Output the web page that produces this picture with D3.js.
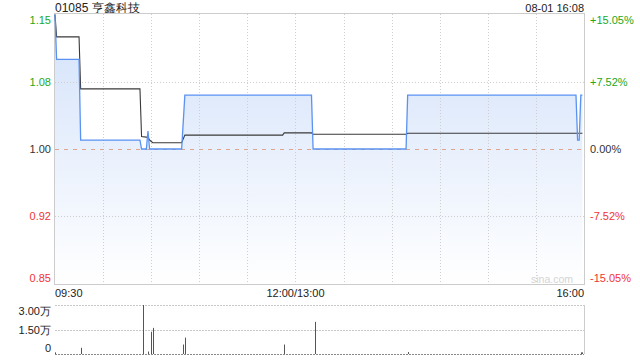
<!DOCTYPE html>
<html><head><meta charset="utf-8">
<script src="https://cdn.jsdelivr.net/npm/d3@7/dist/d3.min.js"></script>
<style>
html,body{margin:0;padding:0;background:#fff;}
svg{display:block;font-family:Arial,"Liberation Sans",Helvetica,sans-serif;}
</style></head>
<body>
<svg id="c" width="640" height="360"></svg>
<script>
const title = "01085 亨鑫科技";
const dateText = "08-01 16:08";
const prevClose = 1.00;
const priceTicks = [1.1505, 1.0752, 1.00, 0.9248, 0.8495];
const priceTickLabels = ["1.15", "1.08", "1.00", "0.92", "0.85"];
const pctTickLabels = ["+15.05%", "+7.52%", "0.00%", "-7.52%", "-15.05%"];
const timeLabels = ["09:30", "12:00/13:00", "16:00"];
const timeLabelMinutes = [0, 150, 330];
const gridMinutes = [30, 60, 90, 120, 150, 180, 210, 240, 270, 300];
// minutes since 09:30 on a continuous trading axis (lunch removed)
const priceMinutes = [0, 1, 15, 16, 53, 54, 57, 58, 59, 79, 81, 160, 161, 219, 220, 325, 326, 327, 328, 329];
const priceValues  = [1.15, 1.10, 1.10, 1.01, 1.01, 1.00, 1.00, 1.02, 1.00, 1.00, 1.06, 1.06, 1.00, 1.00, 1.06, 1.06, 1.01, 1.01, 1.06, 1.06];
const avgMinutes = [0, 1, 15, 16, 53, 54, 58, 59, 61, 79, 81, 142, 143, 160, 161, 219, 220, 329];
const avgValues  = [1.15, 1.125, 1.125, 1.067, 1.067, 1.014, 1.013, 1.010, 1.007, 1.007, 1.0155, 1.0155, 1.018, 1.018, 1.0165, 1.0165, 1.0175, 1.0175];
const volMinutes = [0, 16, 55, 58, 60, 61, 80, 81, 143, 162, 220, 328, 329];
const volValues  = [1000, 3800, 30000, 1500, 13600, 16000, 5800, 10000, 5800, 19700, 1200, 1000, 1000];
const volTicks = [30000, 15000, 0];
const volTickLabels = ["3.00万", "1.50万", "0"];

const svg = d3.select("#c");
const L = 55, R = 584, T = 14, B = 284;
const VT = 305, VB = 354;
const green = "#22a822", red = "#f03434", dark = "#333";

const x = d3.scaleLinear().domain([0, 330]).range([L, R]);
const y = d3.scaleLinear().domain([priceTicks[4], priceTicks[0]]).range([B, T]);
const yv = d3.scaleLinear().domain([0, 30000]).range([VB, VT]);

const defs = svg.append("defs");
const grad = defs.append("linearGradient").attr("id", "g").attr("gradientUnits", "userSpaceOnUse")
  .attr("x1", 0).attr("y1", T).attr("x2", 0).attr("y2", B);
grad.append("stop").attr("offset", 0).attr("stop-color", "#d2e1fa");
grad.append("stop").attr("offset", 1).attr("stop-color", "#ffffff");

// Title and date
svg.append("text").attr("x", L).attr("y", 11.5).attr("font-size", 12).attr("fill", "#222").text(title);
svg.append("text").attr("x", R).attr("y", 11.5).attr("font-size", 11).attr("fill", "#222").attr("text-anchor", "end").text(dateText);

const pts = priceMinutes.map((m, i) => [m, priceValues[i]]);
const apts = avgMinutes.map((m, i) => [m, avgValues[i]]);

// area fill
svg.append("path").datum(pts)
  .attr("d", d3.area().x(d => x(d[0])).y0(B).y1(d => y(d[1])))
  .attr("fill", "url(#g)");

// grid
const g = svg.append("g");
gridMinutes.forEach(m => {
  g.append("line").attr("x1", Math.round(x(m)) + 0.5).attr("x2", Math.round(x(m)) + 0.5)
    .attr("y1", T).attr("y2", B).attr("stroke", "#cfcfcf").attr("stroke-dasharray", "1,2");
});
[priceTicks[1], priceTicks[3]].forEach(v => {
  const yy = Math.round(y(v)) + 0.5;
  g.append("line").attr("x1", L).attr("x2", R).attr("y1", yy).attr("y2", yy)
    .attr("stroke", "#cfcfcf").attr("stroke-dasharray", "1,2");
});
const y0 = Math.round(y(prevClose)) + 0.5;
g.append("line").attr("x1", L).attr("x2", R).attr("y1", y0).attr("y2", y0)
  .attr("stroke", "#e3a48e").attr("stroke-dasharray", "4,5");

// border
svg.append("rect").attr("x", L - 0.5).attr("y", T - 0.5).attr("width", R - L + 1).attr("height", B - T + 1)
  .attr("fill", "none").attr("stroke", "#cccccc");

// lines
svg.append("path").datum(apts)
  .attr("d", d3.line().x(d => x(d[0])).y(d => y(d[1])))
  .attr("fill", "none").attr("stroke", "#3a3a3a").attr("stroke-width", 1.1);
svg.append("path").datum(pts)
  .attr("d", d3.line().x(d => x(d[0])).y(d => y(d[1])))
  .attr("fill", "none").attr("stroke", "#5a92f2").attr("stroke-width", 1.3);

// watermark
svg.append("text").attr("x", 573).attr("y", 282.5).attr("font-size", 10.5).attr("fill", "#d4d4d4")
  .attr("text-anchor", "end").text("sina.com");

// y labels
const colorFor = v => v > prevClose ? green : (v < prevClose ? red : dark);
const labY = (v, i) => i === 0 ? T + 10 : (i === priceTicks.length - 1 ? B - 2 : y(v) + 4);
priceTicks.forEach((v, i) => {
  svg.append("text").attr("x", 51).attr("y", labY(v, i)).attr("font-size", 11)
    .attr("text-anchor", "end").attr("fill", colorFor(v)).text(priceTickLabels[i]);
  svg.append("text").attr("x", 590).attr("y", labY(v, i)).attr("font-size", 11)
    .attr("fill", colorFor(v)).text(pctTickLabels[i]);
});

// time labels
timeLabels.forEach((t, i) => {
  const anchor = i === 0 ? "start" : (i === timeLabels.length - 1 ? "end" : "middle");
  svg.append("text").attr("x", x(timeLabelMinutes[i])).attr("y", 297).attr("font-size", 11)
    .attr("fill", "#222").attr("text-anchor", anchor).text(t);
});

// volume panel
volTicks.forEach((v, i) => {
  const yy = Math.round(yv(v)) + 0.5;
  svg.append("line").attr("x1", L).attr("x2", R).attr("y1", yy).attr("y2", yy)
    .attr("stroke", i === volTicks.length - 1 ? "#888" : "#c8c8c8").attr("stroke-dasharray", "2,1");
  const ly = i === 0 ? VT + 10 : (i === volTicks.length - 1 ? VB - 2 : yv(v) + 4);
  svg.append("text").attr("x", 51).attr("y", ly).attr("font-size", 11).attr("fill", "#222")
    .attr("text-anchor", "end").text(volTickLabels[i]);
});
svg.append("line").attr("x1", R + 0.5).attr("x2", R + 0.5).attr("y1", VT).attr("y2", VB).attr("stroke", "#cccccc");
volMinutes.forEach((m, i) => {
  const xx = Math.round(x(m)) + 0.5;
  svg.append("line").attr("x1", xx).attr("x2", xx).attr("y1", yv(0)).attr("y2", yv(volValues[i]))
    .attr("stroke", "#555").attr("stroke-width", 1);
});
</script>
</body></html>
